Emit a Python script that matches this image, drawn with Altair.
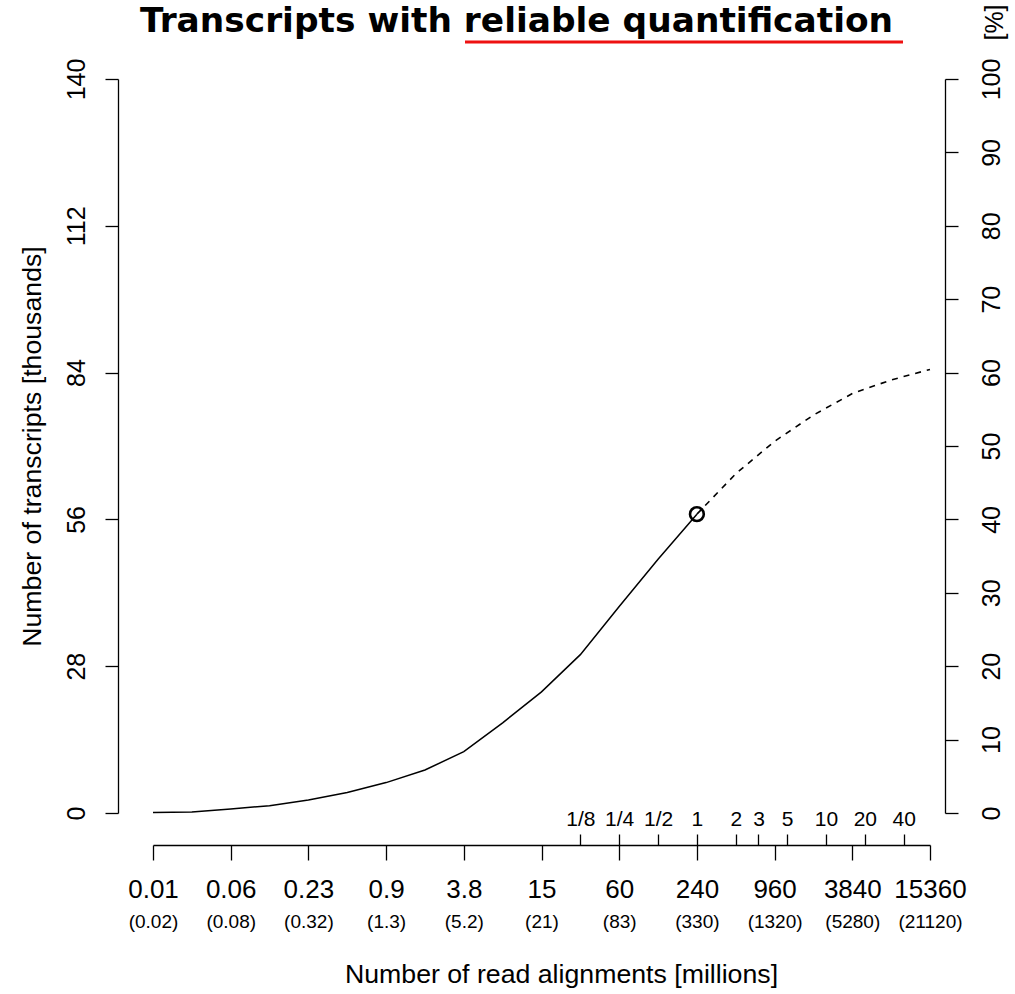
import json
import altair as alt
import pandas as pd

# Read alignments (millions) at each doubling step and transcripts (thousands)
observed_reads = [0.0146484375, 0.029296875, 0.05859375, 0.1171875, 0.234375, 0.46875,
                  0.9375, 1.875, 3.75, 7.5, 15, 30, 60, 120, 240]
observed_transcripts = [0.1, 0.2, 0.75, 1.4, 2.5, 3.9, 5.8, 8.2, 11.7, 17.2, 23.1,
                        30.2, 39.4, 48.4, 57.0]

# Extrapolated part of the curve
projected_reads = [240, 480, 960, 1920, 3840, 7680, 15360]
projected_transcripts = [57.0, 64.7, 70.9, 75.9, 80.0, 82.6, 84.6]

# Current sequencing depth
current_reads = [240]
current_transcripts = [57.0]

# Axis ticks and labels
main_tick_values = [0.0146484375, 0.05859375, 0.234375, 0.9375, 3.75, 15, 60, 240,
                    960, 3840, 15360]
main_tick_labels = ["0.01", "0.06", "0.23", "0.9", "3.8", "15", "60", "240", "960",
                    "3840", "15360"]
raw_tick_labels = ["(0.02)", "(0.08)", "(0.32)", "(1.3)", "(5.2)", "(21)", "(83)",
                   "(330)", "(1320)", "(5280)", "(21120)"]
rel_tick_values = [30, 60, 120, 240, 480, 720, 1200, 2400, 4800, 9600]
rel_tick_labels = ["1/8", "1/4", "1/2", "1", "2", "3", "5", "10", "20", "40"]
y_tick_values = [0, 28, 56, 84, 112, 140]
pct_tick_values = [0, 14, 28, 42, 56, 70, 84, 98, 112, 126, 140]
pct_tick_labels = ["0", "10", "20", "30", "40", "50", "60", "70", "80", "90", "100"]

title_text = "Transcripts with reliable quantification"

FONT = "Liberation Sans"
INK = "#000000"


def lookup_expr(values, labels):
    return f"{json.dumps(labels)}[indexof({json.dumps(values)}, datum.value)]"


def axis(**kw):
    base = dict(grid=False, domainColor=INK, tickColor=INK, labelColor=INK,
                labelFont=FONT, titleFont=FONT, titleColor=INK,
                titleFontWeight="normal", domainWidth=1.3, tickWidth=1.3,
                labelFlush=False, labelOverlap=False, labelBound=False)
    base.update(kw)
    return alt.Axis(**base)


x_scale = alt.Scale(type="log", domain=[0.0146484375, 15360], nice=False)
y_scale = alt.Scale(domain=[0, 140], nice=False, zero=True)

observed = pd.DataFrame({"reads": observed_reads, "transcripts": observed_transcripts})
projected = pd.DataFrame({"reads": projected_reads, "transcripts": projected_transcripts})
current = pd.DataFrame({"reads": current_reads, "transcripts": current_transcripts})

solid = alt.Chart(observed).mark_line(color=INK, strokeWidth=1.5).encode(
    x=alt.X("reads:Q", scale=x_scale, axis=axis(
        orient="bottom", offset=32, values=main_tick_values,
        labelExpr=lookup_expr(main_tick_values, main_tick_labels),
        tickSize=15, labelPadding=37, labelFontSize=26,
        labelBaseline="alphabetic", labelAlign="center",
        title="Number of read alignments [millions]", titleFontSize=26.7,
        titleX=408, titleY=137, titleAlign="center", titleBaseline="alphabetic")),
    y=alt.Y("transcripts:Q", scale=y_scale, axis=axis(
        orient="left", offset=35, values=y_tick_values, tickSize=13,
        labelAngle=-90, labelAlign="center", labelBaseline="alphabetic",
        labelPadding=21, labelFontSize=25,
        title="Number of transcripts [thousands]", titleFontSize=26.7,
        titleAngle=270, titleX=-78, titleY=367, titleAlign="center",
        titleBaseline="alphabetic")),
)

dashed = alt.Chart(projected).mark_line(color=INK, strokeWidth=1.6, strokeDash=[6, 6]).encode(
    x=alt.X("reads:Q", scale=x_scale, axis=axis(
        orient="top", offset=-766, values=rel_tick_values,
        labelExpr=lookup_expr(rel_tick_values, rel_tick_labels),
        domain=False, tickSize=11, labelPadding=9, labelFontSize=21,
        labelBaseline="alphabetic", labelAlign="center", title=None)),
    y=alt.Y("transcripts:Q", scale=y_scale, axis=axis(
        orient="right", offset=15, values=pct_tick_values,
        labelExpr=lookup_expr(pct_tick_values, pct_tick_labels),
        tickSize=13, labelAngle=-90, labelAlign="center",
        labelBaseline="alphabetic", labelPadding=41, labelFontSize=25,
        title="[%]", titleFontSize=25, titleAngle=270, titleX=57, titleY=-57,
        titleAlign="center", titleBaseline="alphabetic")),
)

marker = alt.Chart(current).mark_point(
    shape="circle", filled=False, size=190, strokeWidth=2.6, color=INK, opacity=1
).encode(
    x=alt.X("reads:Q", scale=x_scale, axis=axis(
        orient="bottom", offset=32, values=main_tick_values,
        labelExpr=lookup_expr(main_tick_values, raw_tick_labels),
        domain=False, ticks=False, tickSize=0, labelPadding=82, labelFontSize=19,
        labelBaseline="alphabetic", labelAlign="center", title=None)),
    y=alt.Y("transcripts:Q", scale=y_scale, axis=None),
)

heading = alt.Chart(alt.Data(values=[{"label": title_text}])).mark_text(
    font="DejaVu Sans", fontWeight="bold", fontSize=34.4, color=INK,
    align="center", baseline="alphabetic"
).encode(text="label:N", x=alt.value(363.5), y=alt.value(-47))

underline = alt.Chart(alt.Data(values=[{"label": "reliable quantification"}])).mark_rule(
    color="#ee1111", strokeWidth=3
).encode(x=alt.value(312), x2=alt.value(750), y=alt.value(-37))

chart = alt.layer(solid, dashed, marker, heading, underline).resolve_axis(
    x="independent", y="independent"
).properties(
    width=777, height=734,
    autosize=alt.AutoSizeParams(type="none"),
    padding={"left": 153, "top": 79, "right": 85, "bottom": 181},
    background="white",
).configure_view(stroke=None)

chart.save("out.html", embed_options={"renderer": "svg", "actions": False})
